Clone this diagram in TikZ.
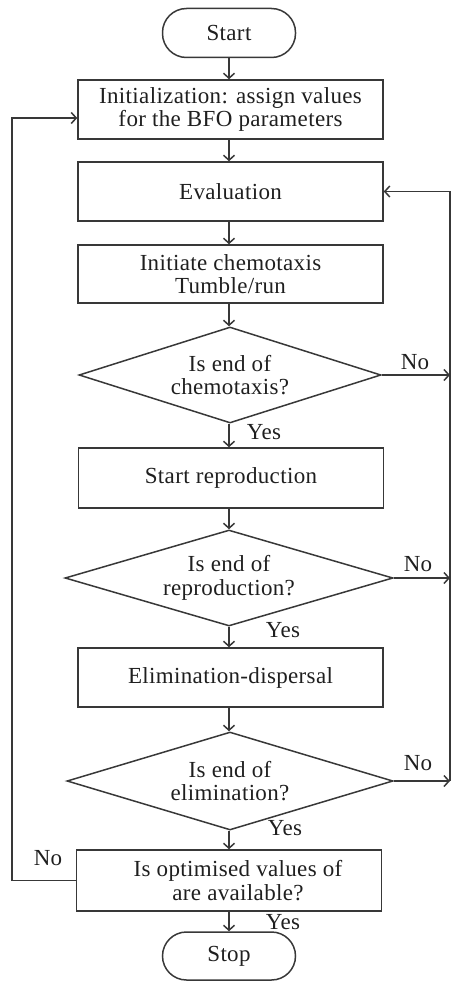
\documentclass[tikz,border=0pt]{standalone}
\usepackage{fontspec}
\setmainfont{Liberation Serif}[LetterSpace=1.5]
\usetikzlibrary{shapes.geometric,arrows.meta}
\begin{document}
\begin{tikzpicture}[x=1pt,y=-1pt,
  every node/.style={font=\fontsize{23}{23.5}\selectfont, text=black!88},
  line/.style={draw=black!78, line width=1.5pt},
  procbox/.style={line, rectangle, minimum width=305pt, inner sep=0pt, align=center},
  term/.style={line, rectangle, rounded corners=24pt, minimum width=133pt, minimum height=49pt},
  decision/.style={line, diamond, inner sep=0pt, shape aspect=3.2, align=center},
  arr/.style={line, -{Straight Barb[length=5pt,width=11pt]}},
  lbl/.style={inner sep=0pt}
]
\useasboundingbox (0,0) rectangle (454,982);
\coordinate (rx) at (450,0);
\coordinate (lx) at (12,0);

\node[term] (start) at (229,33) {Start};
\node[procbox, minimum height=59pt] (init) at (230.5,109.5) {Initialization: assign values\\for the BFO parameters};
\node[procbox, minimum height=59pt] (eval) at (230.5,191.5) {Evaluation};
\node[procbox, minimum height=58pt] (chemo) at (230.5,274) {Initiate chemotaxis\\Tumble/run};
\node[decision, minimum width=302pt, minimum height=96pt] (d1) at (230,375) {Is end of\\chemotaxis?};
\node[procbox, minimum height=60pt] (repro) at (231,478) {Start reproduction};
\node[decision, minimum width=328pt, minimum height=96pt] (d2) at (229,578) {Is end of\\reproduction?};
\node[procbox, minimum height=59pt] (elim) at (230.5,677.5) {Elimination-dispersal};
\node[decision, minimum width=326pt, minimum height=98pt] (d3) at (230,781) {Is end of\\elimination?};
\node[procbox, minimum height=61pt] (opt) at (229,880.5) {\hspace*{18pt}Is optimised values of\\\hspace*{18pt}are available?};
\node[term, minimum height=48pt] (stop) at (229,956) {Stop};
\coordinate (initin) at ([yshift=-8.5pt]init.west);

\draw[arr] (start.south) -- (start.south |- init.north);
\draw[arr] (init.south -| start) -- (eval.north -| start);
\draw[arr] (eval.south -| start) -- (chemo.north -| start);
\draw[arr] (chemo.south -| start) -- (d1.north -| start);
\draw[arr] (d1.south -| start) -- (repro.north -| start);
\draw[arr] (repro.south -| start) -- (d2.north -| start);
\draw[arr] (d2.south -| start) -- (elim.north -| start);
\draw[arr] (elim.south -| start) -- (d3.north -| start);
\draw[arr] (d3.south -| start) -- (opt.north -| start);
\draw[arr] (opt.south -| start) -- (stop.north);

\draw[arr] (d1.east) -- (d1.east -| rx);
\draw[arr] (d2.east) -- (d2.east -| rx);
\draw[arr] (d3.east) -- (d3.east -| rx);
\draw[arr] (d3.east -| rx) -- (eval.east -| rx) -- (eval.east);

\draw[arr] (opt.west) -- (opt.west -| lx) -- (lx |- initin) -- (initin);

\node[lbl] (no1) at (415,362) {No};
\node[lbl] (no2) at (418,564) {No};
\node[lbl] (no3) at (418,763) {No};
\node[lbl] (no4) at (48,858) {No};
\node[lbl] (yes1) at (264,432) {Yes};
\node[lbl] (yes2) at (283,630) {Yes};
\node[lbl] (yes3) at (285,828) {Yes};
\node[lbl] (yes4) at (283,922) {Yes};
\end{tikzpicture}
\end{document}
